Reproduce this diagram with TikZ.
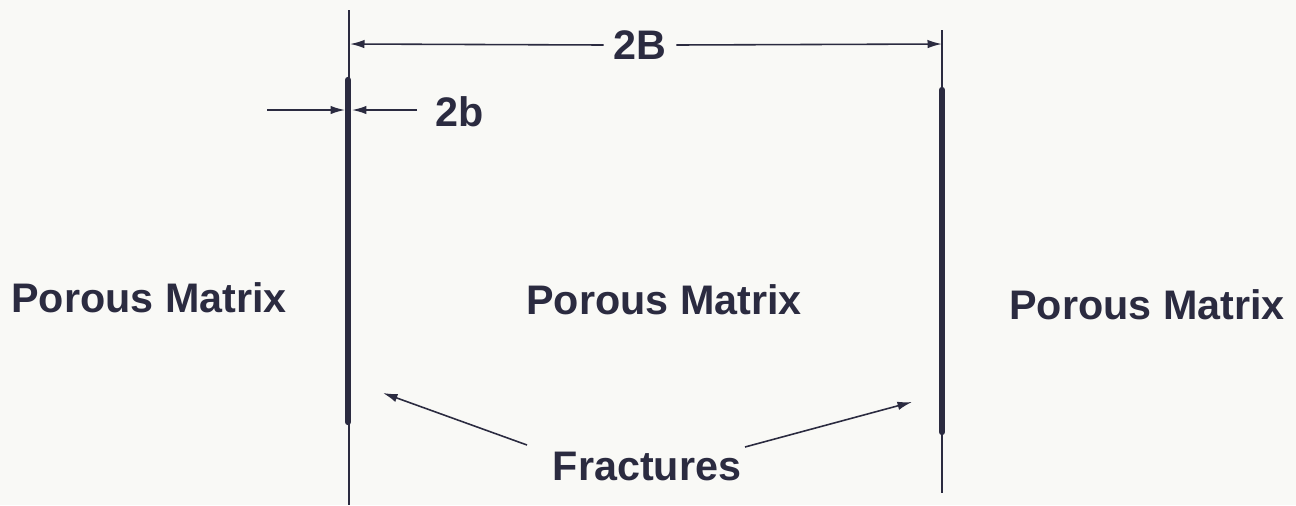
\documentclass[tikz,border=0pt]{standalone}
\usepackage{fontspec}
\setmainfont{Liberation Sans}
\usetikzlibrary{arrows.meta}

\definecolor{ink}{rgb}{0.17,0.17,0.25}
\definecolor{paper}{rgb}{0.975,0.975,0.965}

\begin{document}
\begin{tikzpicture}[
  x=0.02cm,y=-0.02cm,
  >={Latex[length=2.9mm,width=1.7mm]},
  lbl/.style={font=\fontsize{23.5}{28}\selectfont\bfseries,text=ink,inner sep=1pt},
  thin/.style={draw=ink,line width=0.6pt},
  frac/.style={draw=ink,line width=3.6pt,line cap=round},
  ar/.style={->,draw=ink,line width=0.9pt}
]
\fill[paper] (0,0) rectangle (1296,505);
\useasboundingbox (0,0) rectangle (1296,505);

% ---- fracture ends ----
\coordinate (ltop) at (349,10);   \coordinate (lbot) at (349,505);
\coordinate (rtop) at (942,30);   \coordinate (rbot) at (942,493);
\coordinate (lfa) at (348,80);    \coordinate (lfb) at (348,422);
\coordinate (rfa) at (942,90);    \coordinate (rfb) at (942,432);

% extension lines and fractures
\draw[thin] (ltop) -- (lbot);
\draw[thin] (rtop) -- (rbot);
\draw[frac] (lfa) -- (lfb);
\draw[frac] (rfa) -- (rfb);

% ---- 2B dimension ----
\coordinate (bl) at (350,44);  \coordinate (br) at (942,44);
\node[lbl,inner xsep=5.5pt] (twoB) at (640,45) {2B};
\draw[ar] (twoB.west) -- (bl);
\draw[ar] (twoB.east) -- (br);

% ---- 2b dimension ----
\coordinate (wa) at (267,110);  \coordinate (wal) at (345,110);
\coordinate (wb) at (417,110);  \coordinate (wbr) at (352,110);
\node[lbl] (twob) at (460,112) {2b};
\draw[ar] (wa) -- (wal);
\draw[ar] (wb) -- (wbr);

% ---- matrix labels ----
\node[lbl] (pmleft) at (149,298) {Porous Matrix};
\node[lbl] (pmmid) at (664,300) {Porous Matrix};
\node[lbl] (pmright) at (1147,305) {Porous Matrix};

% ---- fractures pointer ----
\node[lbl] (fr) at (647,466) {Fractures};
\coordinate (taill) at (527,445);  \coordinate (tipl) at (383,393);
\coordinate (tailr) at (745,447);  \coordinate (tipr) at (912,402);
\draw[ar] (taill) -- (tipl);
\draw[ar] (tailr) -- (tipr);
\end{tikzpicture}
\end{document}
